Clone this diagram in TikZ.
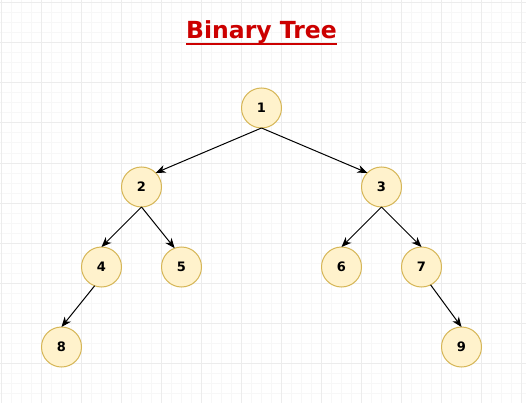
\documentclass[tikz,border=0pt]{standalone}
\usepackage{fontspec}
\setmainfont{DejaVu Sans}
\usetikzlibrary{arrows.meta,positioning}
\definecolor{vfill}{HTML}{FFF2CC}
\definecolor{vdraw}{HTML}{D6B656}
\definecolor{ttl}{HTML}{CC0000}
\tikzset{%
   vert/.style={circle, inner sep=0mm, outer sep=0mm, minimum size=40pt, line width=1pt, draw=vdraw, fill=vfill, font=\fontsize{13}{15}\selectfont\bfseries},
   e/.style={line width=1pt, -{Stealth[length=10pt, width=8pt, inset=3pt]}},
   minorgrid/.style={line width=1pt, draw=gray!6},
   majorgrid/.style={line width=1pt, draw=gray!15},
}

\begin{document}
\begin{tikzpicture}[x=1pt, y=1pt, node distance=80pt and 40pt, on grid]
      \useasboundingbox (0,0) rectangle (526,402);
      \fill[white] (0,0) rectangle (526,402);
      \begin{scope}
        \clip (0,0) rectangle (526,402);
        \draw[minorgrid, xshift=1.5pt, yshift=-1pt] (-10,-10) grid[step=10pt] (540,420);
        \draw[majorgrid, xshift=1.5pt, yshift=-1pt] (-40,-40) grid[step=40pt] (560,440);
      \end{scope}
      \node[anchor=base, inner sep=0pt, text=ttl, font=\fontsize{23.5}{28}\selectfont\bfseries] (title) at (261.5,363) {Binary Tree};
      \draw[ttl, line width=2pt] ([yshift=-5pt]title.base west) -- ([yshift=-5pt]title.base east);
      \node[vert] (t1) at (261.5,294) {1};
      \node[vert, below left=79pt and 120pt of t1] (t2) {2};
      \node[vert, below right=79pt and 120pt of t1] (t3) {3};
      \node[vert, below left=of t2] (t4) {4};
      \node[vert, below right=of t2] (t5) {5};
      \node[vert, below left=of t3] (t6) {6};
      \node[vert, below right=of t3] (t7) {7};
      \node[vert, below left=of t4] (t8) {8};
      \node[vert, below right=of t7] (t9) {9};
      \draw[e] (t1.south) -- (t2.45);
      \draw[e] (t1.south) -- (t3.135);
      \draw[e] (t2.south) -- (t4.north);
      \draw[e] (t2.south) -- (t5.110);
      \draw[e] (t3.south) -- (t6.north);
      \draw[e] (t3.south) -- (t7.north);
      \draw[e] (t4.250) -- (t8.north);
      \draw[e] (t7.297) -- (t9.north);
   \end{tikzpicture}
\end{document}
